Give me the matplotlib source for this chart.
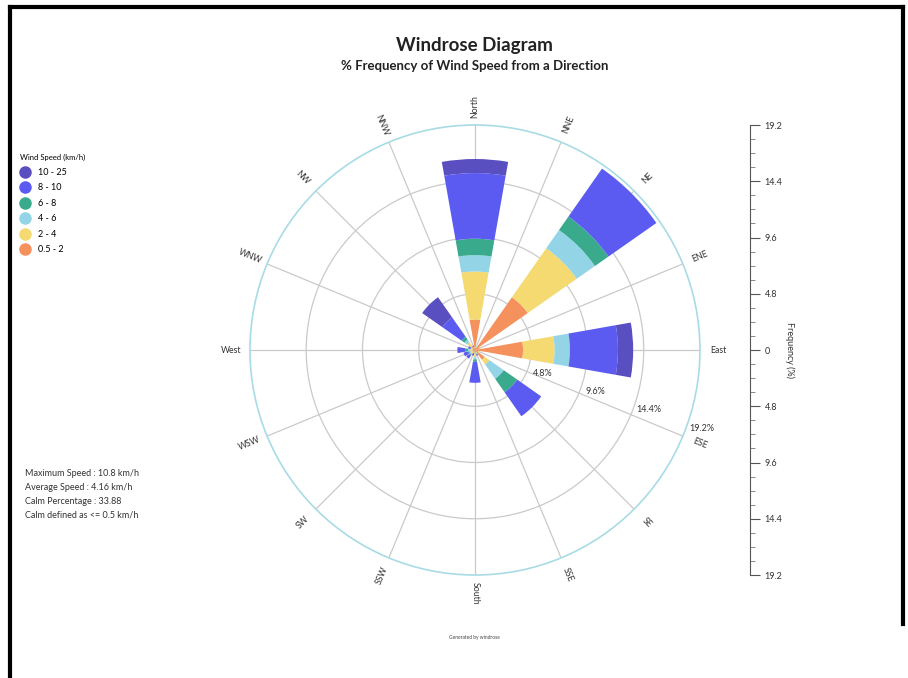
import matplotlib.pyplot as plt
import numpy as np
from matplotlib.lines import Line2D
from matplotlib.ticker import MultipleLocator, FuncFormatter

plt.rcParams['font.family'] = ['Lato', 'DejaVu Sans']

directions = ['North', 'NNE', 'NE', 'ENE', 'East', 'ESE', 'SE', 'SSE',
              'South', 'SSW', 'SW', 'WSW', 'West', 'WNW', 'NW', 'NNW']
speed_bins = ['0.5 - 2', '2 - 4', '4 - 6', '6 - 8', '8 - 10', '10 - 25']
bin_colors = ['#f5915c', '#f5da72', '#93d5e6', '#3aaa8c', '#5b5bf2', '#5a4fc0']

# % frequency per direction for each speed bin
freq_05_2 = [2.6, 0.2, 5.5, 0.4, 4.1, 0.3, 1.0, 0.2, 0.3, 0.1, 0.2, 0.2, 0.2, 0.2, 0.4, 0.2]
freq_2_4 = [4.1, 0.1, 5.1, 0.1, 2.7, 0.1, 0.5, 0.1, 0.3, 0.1, 0.2, 0.2, 0.2, 0.1, 0.4, 0.1]
freq_4_6 = [1.4, 0.0, 1.9, 0.0, 1.3, 0.0, 1.5, 0.1, 0.2, 0.1, 0.1, 0.1, 0.2, 0.1, 0.3, 0.0]
freq_6_8 = [1.4, 0.0, 1.4, 0.0, 0.0, 0.0, 1.4, 0.0, 0.2, 0.0, 0.1, 0.1, 0.2, 0.0, 0.3, 0.0]
freq_8_10 = [5.6, 0.0, 5.0, 0.0, 4.1, 0.0, 2.5, 0.1, 1.8, 0.2, 0.3, 0.4, 0.7, 0.2, 2.0, 0.1]
freq_10_25 = [1.2, 0.0, 0.0, 0.0, 1.3, 0.0, 0.0, 0.0, 0.0, 0.0, 0.0, 0.0, 0.0, 0.0, 2.1, 0.0]
bins_data = [freq_05_2, freq_2_4, freq_4_6, freq_6_8, freq_8_10, freq_10_25]

ring_ticks = [4.8, 9.6, 14.4, 19.2]
stats_lines = ['Maximum Speed : 10.8 km/h', 'Average Speed : 4.16 km/h',
               'Calm Percentage : 33.88', 'Calm defined as <= 0.5 km/h']

fig = plt.figure(figsize=(9.08, 6.78), dpi=100)

ax = fig.add_axes([0.2753, 0.1519, 0.4956, 0.6637], projection='polar')
ax.set_theta_zero_location('N')
ax.set_theta_direction(-1)

theta = np.deg2rad(np.arange(16) * 22.5)
width = np.deg2rad(20)
bottom = np.zeros(16)
for vals, col, lab in zip(bins_data, bin_colors, speed_bins):
    vals = np.array(vals)
    ax.bar(theta, vals, width=width, bottom=bottom, color=col,
           edgecolor='none', label=lab, zorder=3)
    bottom += vals

ax.set_ylim(0, 19.2)
ax.set_yticks(ring_ticks[:-1])
ax.set_yticklabels([])
ax.set_xticks(theta)
ax.set_xticklabels([])
ax.grid(color='#cacaca', lw=0.9)
ax.spines['polar'].set_color('#a8dbe6')
ax.spines['polar'].set_linewidth(1.2)

# direction labels, turned along the spokes
for ang, name in zip(np.arange(16) * 22.5, directions):
    math_ang = 90 - ang
    if math_ang < -90:
        math_ang += 360
    rot = math_ang if -90 <= math_ang <= 90 else math_ang - 180
    ax.text(np.deg2rad(ang), 20.8, name, rotation=rot, rotation_mode='anchor',
            ha='center', va='center', fontsize=6.3, color='#333333')

# ring value labels
for r in ring_ticks:
    ax.text(np.deg2rad(109), r + 1.3, '%.1f%%' % r, ha='center', va='center',
            fontsize=6.5, color='#333333', zorder=4)

# vertical frequency scale
ax2 = fig.add_axes([0.816, 0.1519, 0.010, 0.6637])
ax2.patch.set_visible(False)
for s in ['top', 'bottom', 'left']:
    ax2.spines[s].set_visible(False)
ax2.spines['right'].set_color('#555555')
ax2.set_xticks([])
ax2.set_ylim(-19.2, 19.2)
ax2.yaxis.tick_right()
ax2.yaxis.set_major_locator(MultipleLocator(4.8))
ax2.yaxis.set_minor_locator(MultipleLocator(1.2))
ax2.yaxis.set_major_formatter(FuncFormatter(lambda v, p: '0' if abs(v) < 1e-9 else '%g' % abs(v)))
ax2.tick_params(axis='y', which='major', length=7, labelsize=6.5, colors='#555555', labelcolor='#333333')
ax2.tick_params(axis='y', which='minor', length=3.5, colors='#777777')
ax2.yaxis.set_label_position('right')
ax2.set_ylabel('Frequency (%)', rotation=-90, fontsize=6.5, color='#333333', labelpad=9)

fig.text(0.523, 0.933, 'Windrose Diagram', ha='center', va='center',
         fontsize=13.5, fontweight='bold', color='#222222')
fig.text(0.523, 0.903, '% Frequency of Wind Speed from a Direction', ha='center', va='center',
         fontsize=9.5, fontweight='bold', color='#222222')

handles = [Line2D([], [], marker='o', ls='none', markersize=8, color=c, label=l)
           for c, l in zip(bin_colors[::-1], speed_bins[::-1])]
leg = fig.legend(handles=handles, title='Wind Speed (km/h)', loc='upper left',
                 bbox_to_anchor=(0.018, 0.778), frameon=False, fontsize=6.5,
                 title_fontsize=5.5, labelspacing=0.72, handletextpad=0.8,
                 borderaxespad=0, handlelength=1.2)
leg._legend_box.align = 'left'

for i, line in enumerate(stats_lines):
    fig.text(0.028, 0.302 - i * 0.0205, line, fontsize=6.5, color='#333333', va='center')

fig.text(0.523, 0.06, 'Generated by windrose', ha='center', va='center',
         fontsize=3.5, color='#444444')

# black frame at top and sides
for xs, ys in [([0.011, 0.995], [0.99, 0.99]), ([0.011, 0.011], [0.0, 0.99]),
               ([0.995, 0.995], [0.08, 0.99])]:
    fig.add_artist(Line2D(xs, ys, color='black', lw=3))

fig.savefig('out.png', dpi=100)
